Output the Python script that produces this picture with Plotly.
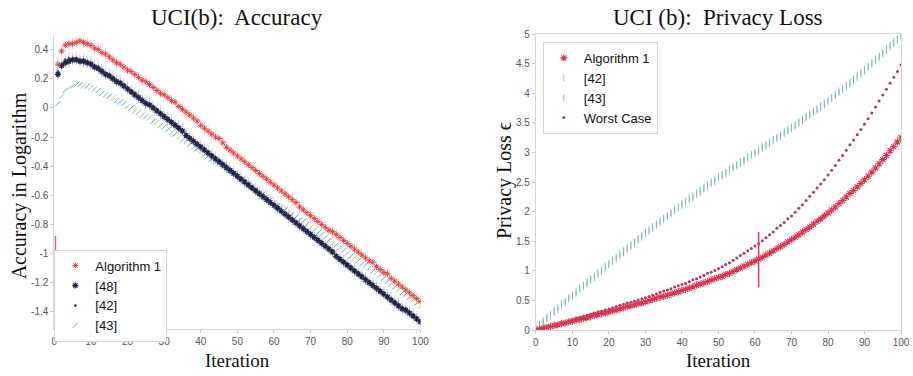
import plotly.graph_objects as go

# ---------------- data: left panel (Accuracy in Logarithm) ----------------
iters_left = list(range(1, 101))

alg1_acc = [0.30, 0.39, 0.43, 0.44, 0.44, 0.45, 0.46, 0.45, 0.44, 0.43,
            0.41, 0.40, 0.38, 0.37, 0.35, 0.33, 0.31, 0.30, 0.28, 0.26,
            0.25, 0.23, 0.21, 0.19, 0.18, 0.16, 0.14, 0.12, 0.10, 0.09,
            0.07, 0.05, 0.04, 0.01, -0.01, -0.03, -0.05, -0.07, -0.09, -0.12,
            -0.14, -0.16, -0.18, -0.20, -0.21, -0.24, -0.27, -0.29, -0.31, -0.33,
            -0.35, -0.37, -0.39, -0.41, -0.43, -0.45, -0.47, -0.49, -0.51, -0.53,
            -0.55, -0.57, -0.59, -0.61, -0.63, -0.65, -0.68, -0.70, -0.72, -0.74,
            -0.76, -0.78, -0.80, -0.82, -0.84, -0.85, -0.87, -0.89, -0.91, -0.93,
            -0.95, -0.97, -0.99, -1.01, -1.03, -1.05, -1.06, -1.09, -1.11, -1.13,
            -1.14, -1.17, -1.19, -1.21, -1.23, -1.25, -1.27, -1.29, -1.31, -1.33]

ref48_acc = [0.23, 0.29, 0.31, 0.32, 0.33, 0.33, 0.32, 0.32, 0.31, 0.30,
             0.28, 0.27, 0.25, 0.23, 0.22, 0.20, 0.18, 0.17, 0.15, 0.13,
             0.11, 0.09, 0.07, 0.05, 0.03, 0.02, 0.00, -0.02, -0.04, -0.06,
             -0.08, -0.10, -0.12, -0.14, -0.16, -0.19, -0.21, -0.23, -0.25, -0.27,
             -0.29, -0.31, -0.33, -0.35, -0.37, -0.39, -0.41, -0.43, -0.45, -0.47,
             -0.49, -0.51, -0.53, -0.55, -0.57, -0.59, -0.61, -0.63, -0.65, -0.67,
             -0.69, -0.71, -0.73, -0.75, -0.77, -0.79, -0.81, -0.83, -0.85, -0.87,
             -0.89, -0.91, -0.93, -0.95, -0.97, -0.99, -1.02, -1.04, -1.06, -1.08,
             -1.10, -1.12, -1.14, -1.16, -1.18, -1.20, -1.22, -1.24, -1.26, -1.28,
             -1.30, -1.32, -1.34, -1.36, -1.38, -1.39, -1.41, -1.43, -1.45, -1.47]

ref42_acc = [0.25, 0.30, 0.33, 0.34, 0.34, 0.34, 0.33, 0.33, 0.32, 0.31,
             0.29, 0.28, 0.26, 0.24, 0.23, 0.21, 0.19, 0.18, 0.16, 0.14,
             0.12, 0.10, 0.08, 0.06, 0.04, 0.03, 0.01, -0.01, -0.03, -0.05,
             -0.07, -0.09, -0.11, -0.13, -0.15, -0.18, -0.20, -0.22, -0.24, -0.26,
             -0.28, -0.30, -0.32, -0.34, -0.36, -0.38, -0.40, -0.42, -0.44, -0.46,
             -0.48, -0.50, -0.52, -0.54, -0.56, -0.58, -0.60, -0.62, -0.64, -0.66,
             -0.68, -0.70, -0.72, -0.74, -0.76, -0.78, -0.80, -0.82, -0.84, -0.86,
             -0.88, -0.90, -0.92, -0.94, -0.96, -0.98, -1.01, -1.03, -1.05, -1.07,
             -1.09, -1.11, -1.13, -1.15, -1.17, -1.19, -1.21, -1.23, -1.25, -1.27,
             -1.29, -1.31, -1.33, -1.35, -1.37, -1.38, -1.40, -1.42, -1.44, -1.46]

ref43_acc = [0.03, 0.08, 0.12, 0.14, 0.15, 0.16, 0.16, 0.15, 0.15, 0.14,
             0.13, 0.12, 0.10, 0.09, 0.08, 0.07, 0.05, 0.04, 0.03, 0.01,
             0.00, -0.02, -0.03, -0.05, -0.06, -0.07, -0.09, -0.10, -0.12, -0.13,
             -0.15, -0.17, -0.18, -0.20, -0.22, -0.23, -0.25, -0.27, -0.28, -0.30,
             -0.32, -0.33, -0.35, -0.37, -0.38, -0.40, -0.42, -0.43, -0.45, -0.47,
             -0.49, -0.50, -0.52, -0.54, -0.56, -0.58, -0.59, -0.61, -0.63, -0.65,
             -0.67, -0.68, -0.70, -0.72, -0.73, -0.75, -0.77, -0.78, -0.80, -0.82,
             -0.84, -0.86, -0.87, -0.89, -0.91, -0.93, -0.94, -0.96, -0.98, -1.00,
             -1.02, -1.03, -1.05, -1.07, -1.08, -1.10, -1.12, -1.13, -1.15, -1.17,
             -1.19, -1.21, -1.23, -1.25, -1.27, -1.28, -1.30, -1.32, -1.34, -1.36]

left_spike_x = [0.3, 0.3]
left_spike_y = [-0.88, -1.08]

left_yticks = [0.4, 0.2, 0, -0.2, -0.4, -0.6, -0.8, -1, -1.2, -1.4]
left_yticktext = ["0.4", "0.2", "0", "-0.2", "-0.4", "-0.6", "-0.8", "-1", "-1.2", "-1.4"]
x_ticks = [0, 10, 20, 30, 40, 50, 60, 70, 80, 90, 100]

# ---------------- data: right panel (Privacy Loss) ----------------
iters_right = list(range(0, 101))

alg1_priv = [0.00, 0.02, 0.03, 0.05, 0.06, 0.08, 0.09, 0.11, 0.12, 0.14, 0.15,
             0.17, 0.18, 0.20, 0.21, 0.23, 0.25, 0.26, 0.28, 0.29, 0.31,
             0.33, 0.34, 0.36, 0.38, 0.40, 0.41, 0.43, 0.45, 0.46, 0.48,
             0.50, 0.52, 0.54, 0.56, 0.57, 0.59, 0.61, 0.63, 0.65, 0.67,
             0.69, 0.71, 0.73, 0.76, 0.78, 0.80, 0.82, 0.85, 0.87, 0.89,
             0.91, 0.94, 0.96, 0.99, 1.02, 1.05, 1.08, 1.11, 1.14, 1.17,
             1.20, 1.23, 1.27, 1.30, 1.34, 1.38, 1.41, 1.45, 1.49, 1.53,
             1.57, 1.61, 1.66, 1.70, 1.74, 1.79, 1.84, 1.88, 1.93, 1.98,
             2.03, 2.08, 2.14, 2.19, 2.25, 2.31, 2.36, 2.42, 2.48, 2.54,
             2.60, 2.67, 2.74, 2.81, 2.88, 2.95, 3.03, 3.10, 3.18, 3.25]

ref42_priv = [0.02, 0.08, 0.13, 0.19, 0.24, 0.30, 0.35, 0.41, 0.46, 0.52, 0.57,
              0.62, 0.68, 0.73, 0.78, 0.84, 0.89, 0.94, 0.99, 1.05, 1.10,
              1.15, 1.20, 1.26, 1.31, 1.36, 1.41, 1.46, 1.52, 1.57, 1.62,
              1.67, 1.72, 1.77, 1.82, 1.86, 1.91, 1.96, 2.01, 2.06, 2.11,
              2.15, 2.20, 2.24, 2.29, 2.33, 2.38, 2.42, 2.47, 2.51, 2.56,
              2.60, 2.64, 2.69, 2.73, 2.77, 2.81, 2.85, 2.90, 2.94, 2.98,
              3.02, 3.06, 3.11, 3.15, 3.19, 3.23, 3.27, 3.32, 3.36, 3.40,
              3.44, 3.49, 3.53, 3.58, 3.62, 3.67, 3.71, 3.76, 3.80, 3.85,
              3.90, 3.95, 4.01, 4.06, 4.11, 4.16, 4.21, 4.27, 4.32, 4.37,
              4.43, 4.49, 4.55, 4.60, 4.66, 4.72, 4.78, 4.84, 4.89, 4.95]

ref43_priv = [0.04, 0.10, 0.16, 0.22, 0.27, 0.33, 0.38, 0.44, 0.49, 0.55, 0.60,
              0.65, 0.71, 0.76, 0.81, 0.87, 0.92, 0.97, 1.02, 1.08, 1.13,
              1.18, 1.23, 1.29, 1.34, 1.39, 1.44, 1.49, 1.55, 1.60, 1.65,
              1.70, 1.75, 1.80, 1.85, 1.89, 1.94, 1.99, 2.04, 2.09, 2.14,
              2.18, 2.23, 2.27, 2.32, 2.36, 2.41, 2.45, 2.50, 2.54, 2.59,
              2.63, 2.67, 2.72, 2.76, 2.80, 2.84, 2.88, 2.93, 2.97, 3.01,
              3.05, 3.09, 3.14, 3.18, 3.22, 3.26, 3.30, 3.35, 3.39, 3.43,
              3.47, 3.52, 3.56, 3.61, 3.65, 3.70, 3.74, 3.79, 3.83, 3.88,
              3.93, 3.98, 4.04, 4.09, 4.14, 4.19, 4.24, 4.30, 4.35, 4.40,
              4.46, 4.52, 4.58, 4.63, 4.69, 4.75, 4.81, 4.87, 4.92, 4.98]

worst_priv = [0.00, 0.02, 0.04, 0.05, 0.07, 0.09, 0.11, 0.13, 0.14, 0.16, 0.18,
              0.20, 0.22, 0.23, 0.25, 0.27, 0.29, 0.31, 0.32, 0.34, 0.36,
              0.38, 0.40, 0.42, 0.44, 0.46, 0.47, 0.49, 0.51, 0.53, 0.55,
              0.57, 0.59, 0.61, 0.64, 0.66, 0.68, 0.70, 0.73, 0.75, 0.77,
              0.79, 0.82, 0.85, 0.87, 0.90, 0.93, 0.96, 0.98, 1.01, 1.04,
              1.07, 1.11, 1.14, 1.18, 1.22, 1.26, 1.30, 1.34, 1.38, 1.42,
              1.46, 1.51, 1.56, 1.61, 1.66, 1.72, 1.77, 1.82, 1.88, 1.93,
              1.99, 2.06, 2.12, 2.19, 2.26, 2.33, 2.40, 2.47, 2.54, 2.62,
              2.70, 2.78, 2.87, 2.95, 3.04, 3.13, 3.21, 3.30, 3.39, 3.48,
              3.57, 3.67, 3.77, 3.87, 3.97, 4.07, 4.17, 4.27, 4.37, 4.48]

right_spike_x = [61, 61]
right_spike_y = [0.72, 1.66]

right_yticks = [0, 0.5, 1, 1.5, 2, 2.5, 3, 3.5, 4, 4.5, 5]
right_yticktext = ["0", "0.5", "1", "1.5", "2", "2.5", "3", "3.5", "4", "4.5", "5"]

# ---------------- styling ----------------
W, H = 913, 376
SERIF = "Liberation Serif, Times New Roman, serif"
SANS = "Liberation Sans, Arial, sans-serif"
multi43 = ["#4fb3c8", "#7cc48a", "#5b8fd6", "#c9c455", "#62c2b0", "#6fa0d8"]

fig = go.Figure()

# left panel (drawn bottom-to-top)
fig.add_trace(go.Scatter(x=iters_left, y=ref43_acc, mode="markers", name="[43]",
                         legendrank=4, xaxis="x", yaxis="y",
                         marker=dict(symbol="line-ne-open", size=5,
                                     color=[multi43[i % len(multi43)] for i in range(len(ref43_acc))],
                                     line=dict(width=1))))
fig.add_trace(go.Scatter(x=iters_left, y=ref42_acc, mode="markers", name="[42]",
                         legendrank=3, xaxis="x", yaxis="y",
                         marker=dict(symbol="circle", size=3, color="#3b4ea8"),
                         error_y=dict(type="constant", value=0.045, color="rgba(60,80,170,0.2)",
                                      thickness=1, width=0)))
fig.add_trace(go.Scatter(x=iters_left, y=ref48_acc, mode="markers", name="[48]",
                         legendrank=2, xaxis="x", yaxis="y",
                         marker=dict(symbol="asterisk-open", size=5, color="#23244a",
                                     line=dict(width=1.3)),
                         error_y=dict(type="constant", value=0.035, color="rgba(30,30,60,0.2)",
                                      thickness=1, width=0)))
fig.add_trace(go.Scatter(x=iters_left, y=alg1_acc, mode="markers", name="Algorithm 1",
                         legendrank=1, xaxis="x", yaxis="y",
                         marker=dict(symbol="asterisk-open", size=5, color="#e2403f",
                                     line=dict(width=1)),
                         error_y=dict(type="constant", value=0.04, color="rgba(230,70,70,0.22)",
                                      thickness=1, width=0)))
fig.add_trace(go.Scatter(x=left_spike_x, y=left_spike_y, mode="lines", showlegend=False,
                         xaxis="x", yaxis="y", line=dict(color="#e0607a", width=1.5),
                         hoverinfo="skip"))

# right panel
fig.add_trace(go.Scatter(x=iters_right, y=ref42_priv, mode="markers", name="[42]",
                         legend="legend2", legendrank=2, xaxis="x2", yaxis="y2",
                         marker=dict(symbol="line-ns-open", size=5, color="#9cc49a",
                                     line=dict(width=0.9))))
fig.add_trace(go.Scatter(x=iters_right, y=ref43_priv, mode="markers", name="[43]",
                         legend="legend2", legendrank=3, xaxis="x2", yaxis="y2",
                         marker=dict(symbol="line-ns-open", size=5, color="#74b0cc",
                                     line=dict(width=0.9))))
fig.add_trace(go.Scatter(x=iters_right, y=worst_priv, mode="markers", name="Worst Case",
                         legend="legend2", legendrank=4, xaxis="x2", yaxis="y2",
                         marker=dict(symbol="circle", size=3, color="#b5346a")))
fig.add_trace(go.Scatter(x=iters_right, y=alg1_priv, mode="markers", name="Algorithm 1",
                         legend="legend2", legendrank=1, xaxis="x2", yaxis="y2",
                         marker=dict(symbol="asterisk-open", size=6, color="#d8354f",
                                     line=dict(width=1.1))))
fig.add_trace(go.Scatter(x=right_spike_x, y=right_spike_y, mode="lines", showlegend=False,
                         xaxis="x2", yaxis="y2", line=dict(color="#d23a60", width=1.5),
                         hoverinfo="skip"))

axis_common = dict(showgrid=False, zeroline=False, showline=True, linecolor="#d6d6d6",
                   linewidth=1, ticks="outside", ticklen=3, tickcolor="#c8c8c8",
                   tickfont=dict(family=SANS, size=10, color="#555"))

fig.update_layout(
    width=W, height=H, margin=dict(l=0, r=0, t=0, b=0),
    paper_bgcolor="white", plot_bgcolor="white",
    xaxis=dict(domain=[52 / W, 423 / W], range=[0, 100], tickvals=x_ticks,
               anchor="y", **axis_common),
    yaxis=dict(domain=[(H - 334) / H, (H - 31) / H], range=[-1.52, 0.5],
               tickvals=left_yticks, ticktext=left_yticktext, anchor="x", **axis_common),
    xaxis2=dict(domain=[540 / W, 910 / W], range=[0, 100], tickvals=x_ticks,
                anchor="y2", mirror=True, **axis_common),
    yaxis2=dict(domain=[(H - 335) / H, (H - 30) / H], range=[0, 5],
                tickvals=right_yticks, ticktext=right_yticktext, anchor="x2",
                mirror=True, **axis_common),
    legend=dict(x=52 / W, y=(H - 252) / H, xanchor="left", yanchor="top",
                bgcolor="white", bordercolor="#d4d4d4", borderwidth=1,
                font=dict(family=SANS, size=13, color="#111"), tracegroupgap=0,
                itemwidth=30),
    legend2=dict(x=547 / W, y=(H - 38) / H, xanchor="left", yanchor="top",
                 bgcolor="white", bordercolor="#d4d4d4", borderwidth=1,
                 font=dict(family=SANS, size=13, color="#111"), tracegroupgap=0,
                 itemwidth=30),
    showlegend=True,
)

annotations = [
    dict(text="UCI(b):  Accuracy", x=237.5 / W, y=1 - 13 / H),
    dict(text="UCI (b):  Privacy Loss", x=725 / W, y=1 - 13 / H),
    dict(text="Iteration", x=237.5 / W, y=1 - 366 / H, size=19),
    dict(text="Iteration", x=725 / W, y=1 - 366 / H, size=19),
    dict(text="Accuracy in Logarithm", x=17 / W, y=1 - 186 / H, size=20, angle=-90),
    dict(text="Privacy Loss ϵ", x=508 / W, y=1 - 181 / H, size=20, angle=-90),
]
for a in annotations:
    fig.add_annotation(text=a["text"], x=a["x"], y=a["y"], xref="paper", yref="paper",
                       xanchor="center", yanchor="middle", showarrow=False,
                       textangle=a.get("angle", 0),
                       font=dict(family=SERIF, size=a.get("size", 23), color="#111"))

fig.write_html("out.html")
